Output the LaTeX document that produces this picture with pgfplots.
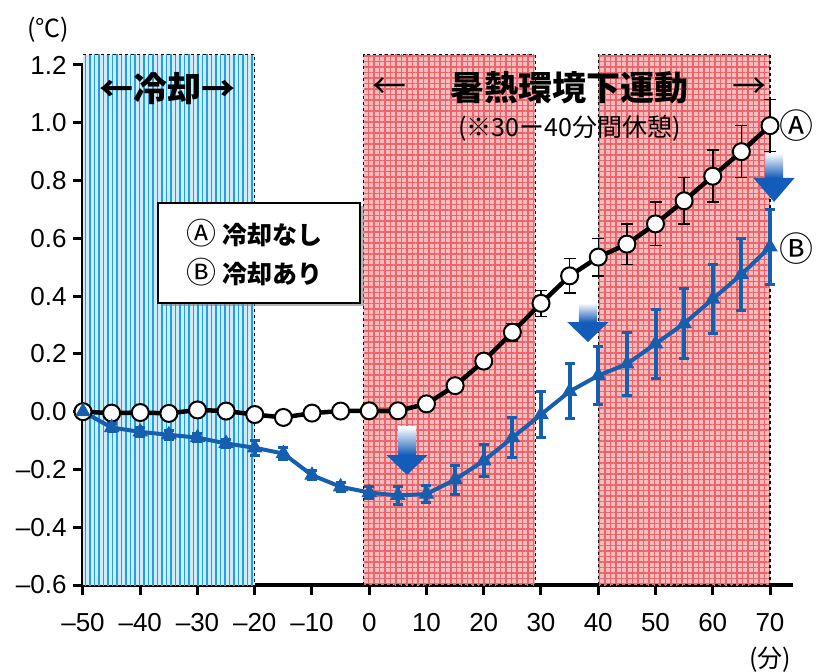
\documentclass[border=0pt]{standalone}
\usepackage{fontspec}
\setmainfont{Liberation Sans}
\newfontfamily\cjk{Noto Sans CJK JP}
\usepackage{pgfplots}
\pgfplotsset{compat=1.18}
\usetikzlibrary{patterns.meta,shadows}
\definecolor{lineblue}{RGB}{22,95,175}
\definecolor{arrowblue}{RGB}{20,92,185}
\definecolor{stripebg}{RGB}{205,235,248}
\definecolor{stripe}{RGB}{35,160,220}
\definecolor{redbg}{RGB}{248,188,188}
\definecolor{redline}{RGB}{235,100,108}

\pgfplotstableread{
x y e
-50 0.000 0.010
-45 -0.005 0.010
-40 -0.003 0.010
-35 -0.006 0.010
-30 0.006 0.010
-25 0.002 0.010
-20 -0.010 0.010
-15 -0.020 0.010
-10 -0.005 0.010
-5 0.002 0.010
0 0.003 0.012
5 0.003 0.015
10 0.027 0.015
15 0.090 0.020
20 0.175 0.020
25 0.275 0.030
30 0.375 0.045
35 0.470 0.060
40 0.535 0.065
45 0.580 0.070
50 0.650 0.075
55 0.730 0.080
60 0.815 0.090
65 0.900 0.090
70 0.990 0.090
}\dataA

\pgfplotstableread{
x y e
-50 0.000 0.010
-45 -0.055 0.015
-40 -0.070 0.015
-35 -0.080 0.015
-30 -0.090 0.015
-25 -0.110 0.015
-20 -0.125 0.025
-15 -0.145 0.020
-10 -0.220 0.015
-5 -0.260 0.015
0 -0.280 0.020
5 -0.290 0.030
10 -0.285 0.030
15 -0.235 0.050
20 -0.170 0.055
25 -0.090 0.070
30 -0.010 0.080
35 0.070 0.095
40 0.125 0.100
45 0.165 0.110
50 0.235 0.120
55 0.305 0.120
60 0.390 0.120
65 0.475 0.125
70 0.570 0.130
}\dataB

\newcommand\barrow[4]{%
  \shade[top color=white, bottom color=arrowblue]
    (axis cs:{#1-1.6},#2) rectangle (axis cs:{#1+1.6},#3);
  \fill[arrowblue] (axis cs:{#1+3.6},#3) -- (axis cs:#1,#4) -- (axis cs:{#1-3.6},#3) -- cycle;}
\newcommand\redregion[2]{%
  \fill[redbg] (axis cs:#1,-0.6) rectangle (axis cs:#2,1.235);
  \fill[pattern={Hatch[angle=0,distance=5.5pt,line width=1.3pt]}, pattern color=redline]
    (axis cs:#1,-0.6) rectangle (axis cs:#2,1.235);
  \draw[dashed, line width=1.2pt] (axis cs:#1,-0.6) rectangle (axis cs:#2,1.235);}

\begin{document}
\begin{tikzpicture}
\path[use as bounding box] (-83pt,-87pt) rectangle (739pt,585pt);
\begin{axis}[
  at={(0,0)}, anchor=south west,
  scale only axis, width=709.9pt, height=520pt,
  xmin=-50, xmax=74, ymin=-0.6, ymax=1.2,
  clip=false,
  axis lines=left,
  axis line style={-, line width=3.5pt, black},
  xtick={-50,-40,...,70},
  xticklabels={--50,--40,--30,--20,--10,0,10,20,30,40,50,60,70},
  ytick={-0.6,-0.4,...,1.21},
  yticklabels={--0.6,--0.4,--0.2,0.0,0.2,0.4,0.6,0.8,1.0,1.2},
  tick align=outside,
  major tick length=10pt,
  tick style={line width=3pt, black},
  tick label style={font=\fontsize{26}{30}\selectfont},
  x tick label style={yshift=-15pt},
  y tick label style={xshift=-3pt},
]
% background regions
\fill[stripebg] (axis cs:-50,-0.6) rectangle (axis cs:-20,1.235);
\fill[pattern={Lines[angle=90,distance=4.5pt,line width=1.8pt]}, pattern color=stripe]
  (axis cs:-50,-0.6) rectangle (axis cs:-20,1.235);
\draw[dashed, line width=1.2pt] (axis cs:-50,1.235) -- (axis cs:-20,1.235) -- (axis cs:-20,-0.6);
\redregion{-1}{29}
\redregion{40}{70}
% series A
\addplot[black, line width=4.5pt, mark=*, mark size=8.5pt,
  mark options={fill=white, draw=black, line width=2pt},
  error bars/.cd, y dir=both, y explicit,
  error bar style={line width=1.5pt, black},
  error mark options={rotate=90, line width=1.5pt, mark size=6pt, black}]
  table[x=x, y=y, y error=e] {\dataA};
% series B
\addplot[lineblue, line width=4pt, mark=triangle*, mark size=8pt,
  mark options={fill=lineblue, draw=lineblue, line width=1pt},
  error bars/.cd, y dir=both, y explicit,
  error bar style={line width=4pt, lineblue},
  error mark options={rotate=90, line width=3pt, mark size=5pt, lineblue}]
  table[x=x, y=y, y error=e] {\dataB};
% blue arrows
\barrow{6.6}{-0.053}{-0.15}{-0.219}
\barrow{38.2}{0.376}{0.31}{0.241}
\barrow{70.7}{0.895}{0.809}{0.726}
% legend
\draw[fill=white, line width=1.5pt, drop shadow={shadow xshift=4pt, shadow yshift=-3pt, opacity=0.6}]
  (axis cs:-36.9,0.722) rectangle (axis cs:-1.6,0.376);
\node[anchor=west, font=\cjk\fontsize{25}{30}\selectfont] at (axis cs:-32.5,0.618) {{\fontsize{30}{30}\selectfont Ⓐ} \bfseries 冷却なし};
\node[anchor=west, font=\cjk\fontsize{25}{30}\selectfont] at (axis cs:-32.5,0.484) {{\fontsize{30}{30}\selectfont Ⓑ} \bfseries 冷却あり};
% labels
\node[font=\cjk\bfseries\fontsize{34}{40}\selectfont] at (axis cs:-35.3,1.12) {←冷却→};
\node[font=\cjk\fontsize{34}{40}\selectfont] at (axis cs:3.6,1.12) {←};
\node[font=\cjk\bfseries\fontsize{34}{40}\selectfont] at (axis cs:34.9,1.12) {暑熱環境下運動};
\node[font=\cjk\fontsize{34}{40}\selectfont] at (axis cs:66.5,1.12) {→};
\node[font=\cjk\fontsize{25}{30}\selectfont] at (axis cs:35,0.982) {(※30ー40分間休憩)};
\node[font=\cjk\fontsize{34}{36}\selectfont] at (axis cs:74.6,0.992) {Ⓐ};
\node[font=\cjk\fontsize{34}{36}\selectfont] at (axis cs:74.6,0.566) {Ⓑ};
\node[font=\cjk\fontsize{25}{30}\selectfont] at (axis cs:-56.1,1.321) {(℃)};
\node[font=\cjk\fontsize{25}{30}\selectfont] at (axis cs:70,-0.858) {(分)};
\end{axis}
\end{tikzpicture}
\end{document}
